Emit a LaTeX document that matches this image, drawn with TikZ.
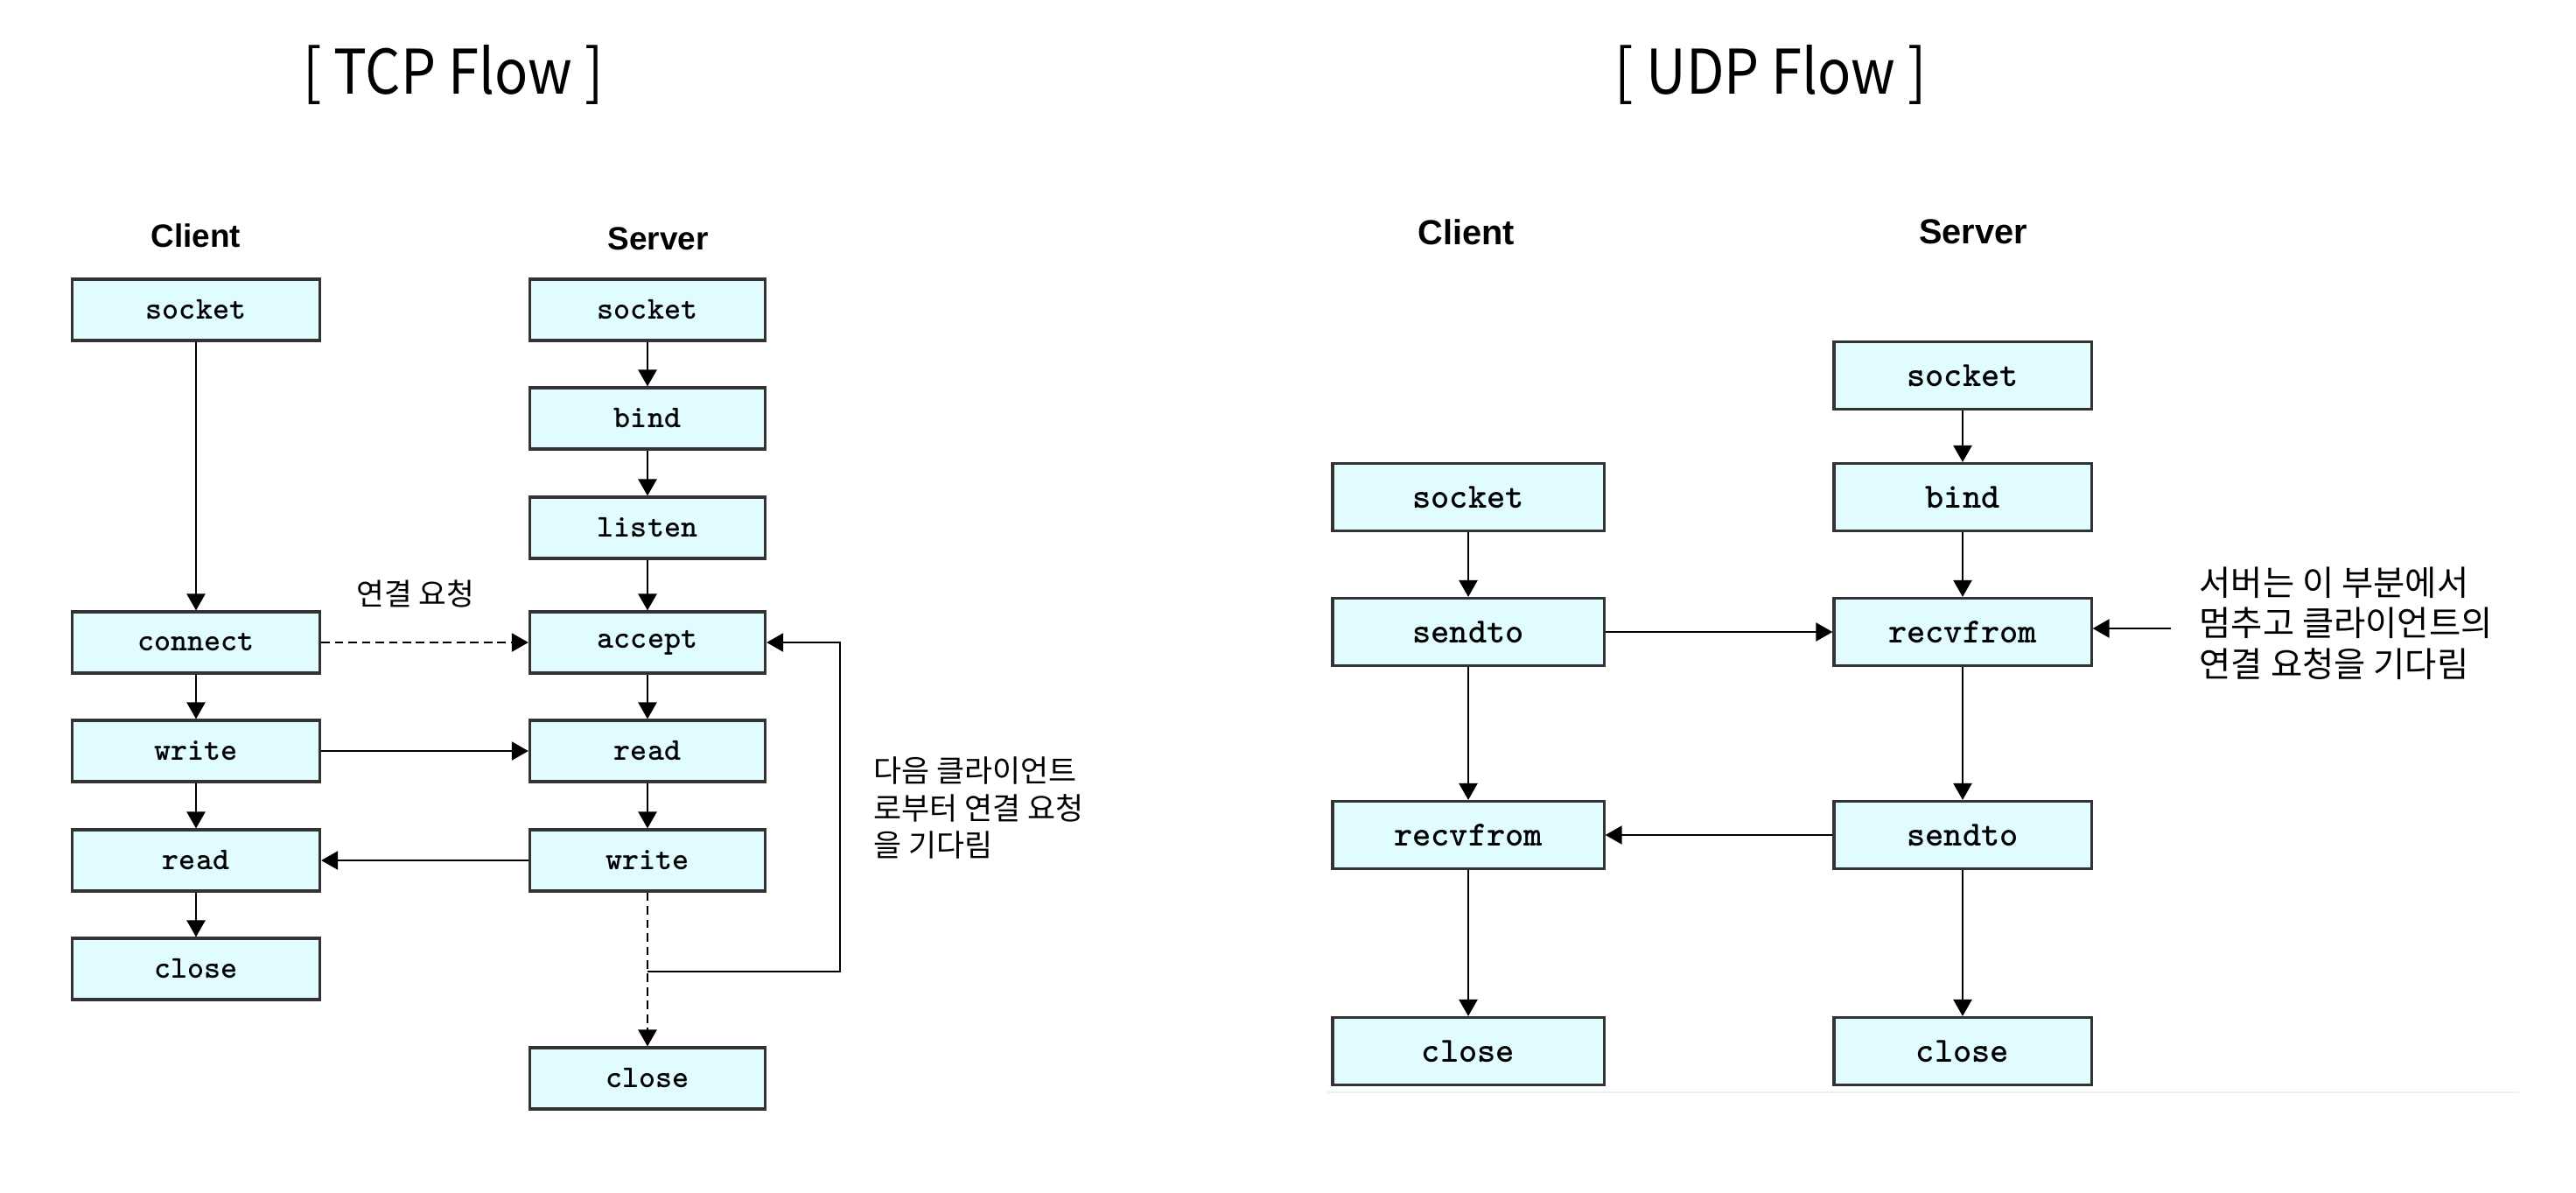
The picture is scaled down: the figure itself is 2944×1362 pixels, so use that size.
\documentclass[tikz,border=0pt]{standalone}
\usepackage{xcolor}
\usepackage{fontspec}
\usepackage{tikz}
\usetikzlibrary{arrows.meta}
\newfontfamily\krfont{Noto Sans CJK KR}
\newfontfamily\titlefont[FakeStretch=0.9]{Noto Sans CJK KR}
\newfontfamily\headfont{Liberation Sans}
\definecolor{boxfill}{HTML}{E0FCFF}
\definecolor{boxline}{HTML}{333333}
\definecolor{faint}{HTML}{E6F2F8}
\tikzset{
  fn/.style={draw=boxline, line width=0.9pt, fill=boxfill, inner sep=0pt},
  tcpbox/.style={fn, minimum height=0.70cm, font=\ttfamily\bfseries\fontsize{10.3}{12}\selectfont},
  udpbox/.style={fn, minimum height=0.77cm, font=\ttfamily\bfseries\fontsize{11.5}{13}\selectfont},
  flow/.style={-{Triangle[length=5.4pt,width=6pt]}, line width=0.6pt},
  title/.style={font=\titlefont\fontsize{20}{24}\selectfont},
  side/.style={font=\headfont\bfseries\fontsize{10.5}{12}\selectfont},
}
\begin{document}
\begin{tikzpicture}[x=0.01cm,y=-0.01cm]
\useasboundingbox (0,0) rectangle (2944,1362);
%% TCP
\node[title] (tcptitle) at (518,85) {[ TCP Flow ]};
\node[side] (tcpclient) at (224,269) {Client};
\node[side] (tcpserver) at (752,273) {Server};
%%
\node[tcpbox, minimum width=2.83cm] (csock) at (224,354) {socket};
\node[tcpbox, minimum width=2.83cm] (cconn) at (224,734) {connect};
\node[tcpbox, minimum width=2.83cm] (cwrite) at (224,858) {write};
\node[tcpbox, minimum width=2.83cm] (cread) at (224,983) {read};
\node[tcpbox, minimum width=2.83cm] (cclose) at (224,1107) {close};
%%
\node[tcpbox, minimum width=2.69cm] (ssock) at (740,354) {socket};
\node[tcpbox, minimum width=2.69cm] (sbind) at (740,478) {bind};
\node[tcpbox, minimum width=2.69cm] (slisten) at (740,603) {listen};
\node[tcpbox, minimum width=2.69cm] (saccept) at (740,734) {accept};
\node[tcpbox, minimum width=2.69cm] (sread) at (740,858) {read};
\node[tcpbox, minimum width=2.69cm] (swrite) at (740,983) {write};
\node[tcpbox, minimum width=2.69cm] (sclose) at (740,1232) {close};
%%
\draw[flow] (csock) -- (cconn);
\draw[flow] (cconn) -- (cwrite);
\draw[flow] (cwrite) -- (cread);
\draw[flow] (cread) -- (cclose);
\draw[flow] (ssock) -- (sbind);
\draw[flow] (sbind) -- (slisten);
\draw[flow] (slisten) -- (saccept);
\draw[flow] (saccept) -- (sread);
\draw[flow] (sread) -- (swrite);
\draw[flow, dash pattern=on 2.8pt off 1.6pt] (swrite) -- (sclose);
%%
\draw[flow, dash pattern=on 2.8pt off 1.6pt] (cconn) -- (saccept);
\node[font=\krfont\fontsize{9.8}{12}\selectfont] (reqlabel) at (475,678) {연결 요청};
\draw[flow] (cwrite) -- (sread);
\draw[flow] (swrite) -- (cread);
%%
\coordinate (loopa) at (740,1110);
\coordinate (loopb) at (960,1110);
\draw[flow] (loopa) -- (loopb) |- (saccept.east);
\node[anchor=west, align=left, inner sep=0pt, font=\krfont\fontsize{9.9}{12.2}\selectfont] (nextlabel) at (998,923) {다음 클라이언트\\로부터 연결 요청\\을 기다림};
%% UDP
\node[title] (udptitle) at (2024,85) {[ UDP Flow ]};
\node[side, font=\headfont\bfseries\fontsize{11.3}{13}\selectfont] (udpclient) at (1676,265) {Client};
\node[side, font=\headfont\bfseries\fontsize{11.3}{13}\selectfont] (udpserver) at (2255,265) {Server};
%%
\node[udpbox, minimum width=3.10cm] (ucsock) at (1678,568) {socket};
\node[udpbox, minimum width=3.10cm] (ucsend) at (1678,722) {sendto};
\node[udpbox, minimum width=3.10cm] (ucrecv) at (1678,954) {recvfrom};
\node[udpbox, minimum width=3.10cm] (ucclose) at (1678,1201) {close};
%%
\node[udpbox, minimum width=2.94cm] (ussock) at (2243,429) {socket};
\node[udpbox, minimum width=2.94cm] (usbind) at (2243,568) {bind};
\node[udpbox, minimum width=2.94cm] (usrecv) at (2243,722) {recvfrom};
\node[udpbox, minimum width=2.94cm] (ussend) at (2243,954) {sendto};
\node[udpbox, minimum width=2.94cm] (usclose) at (2243,1201) {close};
%%
\draw[flow] (ucsock) -- (ucsend);
\draw[flow] (ucsend) -- (ucrecv);
\draw[flow] (ucrecv) -- (ucclose);
\draw[flow] (ussock) -- (usbind);
\draw[flow] (usbind) -- (usrecv);
\draw[flow] (usrecv) -- (ussend);
\draw[flow] (ussend) -- (usclose);
\draw[flow] (ucsend) -- (usrecv);
\draw[flow] (ussend) -- (ucrecv);
%%
\coordinate (uwait) at (2481,718);
\draw[flow] (uwait) -- (uwait -| usrecv.east);
\node[anchor=west, align=left, inner sep=0pt, font=\krfont\fontsize{11.2}{13.2}\selectfont] (waitlabel) at (2513,712) {서버는 이 부분에서\\멈추고 클라이언트의\\연결 요청을 기다림};
\draw[faint, line width=0.6pt] (1517,1248) -- (2879,1248);
\end{tikzpicture}
\end{document}
